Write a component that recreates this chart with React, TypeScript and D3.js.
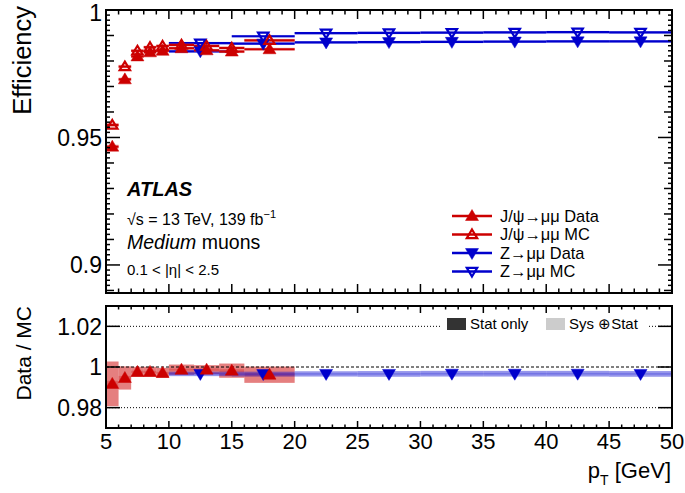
import React from 'react';
import * as d3 from 'd3';

// ---- data ----
const jpsiEdges = [5, 6, 7, 8, 9, 10, 12, 14, 16, 20];
const jpsiData = [0.9464, 0.9728, 0.9818, 0.9834, 0.984, 0.985, 0.9842, 0.9837, 0.9846];
const jpsiMC = [0.9549, 0.9778, 0.984, 0.9854, 0.9859, 0.9863, 0.9859, 0.9851, 0.9881];
const jpsiEffErr = [0.0008, 0.0007, 0.0006, 0.0006, 0.0006, 0.0006, 0.0006, 0.0006, 0.0006];
const zEdges = [10, 15, 20, 25, 30, 35, 40, 45, 50];
const zData = [0.9838, 0.9868, 0.9873, 0.9874, 0.9875, 0.9876, 0.9877, 0.9877];
const zMC = [0.987, 0.9897, 0.9909, 0.991, 0.9911, 0.9912, 0.9913, 0.9912];
const zEffErr = [0.0005, 0.0005, 0.0005, 0.0005, 0.0005, 0.0005, 0.0005, 0.0005];

const jpsiRatio = [0.9917, 0.9946, 0.9976, 0.9976, 0.9971, 0.9987, 0.9987, 0.9982, 0.9962];
const jpsiRatioSys = [0.011, 0.0057, 0.0025, 0.0025, 0.0025, 0.0025, 0.0022, 0.0035, 0.004];
const jpsiRatioStat = [0.0015, 0.001, 0.0006, 0.0005, 0.0005, 0.0005, 0.0006, 0.0007, 0.0008];
const zRatio = [0.9966, 0.9965, 0.9966, 0.9966, 0.9967, 0.9967, 0.9967, 0.9966];
const zRatioSys = [0.0011, 0.0012, 0.0013, 0.0014, 0.0014, 0.0014, 0.0014, 0.0014];
const zRatioStat = [0.0004, 0.0004, 0.0004, 0.0004, 0.0004, 0.0004, 0.0004, 0.0004];

const xTickLabels = ['5', '10', '15', '20', '25', '30', '35', '40', '45', '50'];
const yTopLabels = [0.9, 0.95, 1];
const yBotLabels = [0.98, 1, 1.02];

const RED = '#cc0000';
const BLUE = '#0000cc';
const FONT = "'Liberation Sans', Arial, Helvetica, sans-serif";

const upFilled = 'M0,-6.5L6.5,4.5L-6.5,4.5Z';
const upOpen = 'M0,-5L5.2,3.6L-5.2,3.6Z';
const downFilled = 'M0,6.5L6.5,-4.5L-6.5,-4.5Z';
const downOpen = 'M0,5L5.2,-3.6L-5.2,-3.6Z';

function Marker({ cx, cy, kind, color }: { cx: number; cy: number; kind: string; color: string }) {
  const d = kind === 'upF' ? upFilled : kind === 'upO' ? upOpen : kind === 'dnF' ? downFilled : downOpen;
  const filled = kind.endsWith('F');
  return (
    <path
      d={d}
      transform={`translate(${cx},${cy})`}
      fill={filled ? color : 'none'}
      stroke={color}
      strokeWidth={filled ? 0.5 : 2.2}
      strokeLinejoin="miter"
    />
  );
}

export default function App() {
  const W = 685, H = 493;
  const L = 106, R = 672;
  const topT = 10, topB = 293, botT = 306, botB = 428;
  const x = d3.scaleLinear().domain([5, 50]).range([L, R]);
  const yT = d3.scaleLinear().domain([0.889, 1]).range([topB, topT]);
  const yB = d3.scaleLinear().domain([0.97, 1.03]).range([botB, botT]);

  const xMinor = d3.range(5, 51, 1);
  const yTopMinor = d3.range(445, 501).map((i) => ({ v: i * 0.002, i }));

  const effSeries = (
    edges: number[],
    vals: number[],
    errs: number[],
    color: string,
    light: string
  ) =>
    vals.map((v, i) => (
      <g key={i}>
        <rect
          x={x(edges[i])}
          width={x(edges[i + 1]) - x(edges[i])}
          y={yT(v + errs[i])}
          height={yT(v - errs[i]) - yT(v + errs[i])}
          fill={light}
        />
        <line x1={x(edges[i])} x2={x(edges[i + 1])} y1={yT(v)} y2={yT(v)} stroke={color} strokeWidth={2.2} />
      </g>
    ));

  const ratioBands = (edges: number[], vals: number[], sys: number[], stat: number[], sysC: string, statC: string) =>
    vals.map((v, i) => (
      <g key={i}>
        <rect
          x={x(edges[i])}
          width={x(edges[i + 1]) - x(edges[i])}
          y={yB(v + sys[i])}
          height={yB(v - sys[i]) - yB(v + sys[i])}
          fill={sysC}
        />
        <rect
          x={x(edges[i])}
          width={x(edges[i + 1]) - x(edges[i])}
          y={yB(v + stat[i])}
          height={yB(v - stat[i]) - yB(v + stat[i])}
          fill={statC}
        />
      </g>
    ));

  const centers = (edges: number[]) => edges.slice(0, -1).map((e, i) => (e + edges[i + 1]) / 2);
  const jc = centers(jpsiEdges);
  const zc = centers(zEdges);

  const legendRows = [
    { label: 'J/ψ→μμ Data', kind: 'upF', color: RED },
    { label: 'J/ψ→μμ MC', kind: 'upO', color: RED },
    { label: 'Z→μμ Data', kind: 'dnF', color: BLUE },
    { label: 'Z→μμ MC', kind: 'dnO', color: BLUE },
  ];

  return (
    <svg width={W} height={H} style={{ position: 'absolute', left: 0, top: 0, background: '#fff' }} fontFamily={FONT}>
      <rect width={W} height={H} fill="#fff" />

      {/* ===== TOP PANEL ===== */}
      {effSeries(zEdges, zMC, zEffErr, BLUE, 'rgba(90,90,230,0.45)')}
      {effSeries(zEdges, zData, zEffErr, BLUE, 'rgba(90,90,230,0.45)')}
      {effSeries(jpsiEdges, jpsiMC, jpsiEffErr, RED, 'rgba(230,90,90,0.45)')}
      {effSeries(jpsiEdges, jpsiData, jpsiEffErr, RED, 'rgba(230,90,90,0.45)')}
      {zc.map((c, i) => (
        <Marker key={'zm' + i} cx={x(c)} cy={yT(zMC[i])} kind="dnO" color={BLUE} />
      ))}
      {zc.map((c, i) => (
        <Marker key={'zd' + i} cx={x(c)} cy={yT(zData[i])} kind="dnF" color={BLUE} />
      ))}
      {jc.map((c, i) => (
        <Marker key={'jm' + i} cx={x(c)} cy={yT(jpsiMC[i])} kind="upO" color={RED} />
      ))}
      {jc.map((c, i) => (
        <Marker key={'jd' + i} cx={x(c)} cy={yT(jpsiData[i])} kind="upF" color={RED} />
      ))}

      {/* top frame ticks */}
      {xMinor.map((v) => {
        const len = v % 5 === 0 ? 9 : 4.5;
        return (
          <g key={'xt' + v} stroke="#000" strokeWidth={1.5}>
            <line x1={x(v)} x2={x(v)} y1={topB} y2={topB - len} />
            <line x1={x(v)} x2={x(v)} y1={topT} y2={topT + len} />
          </g>
        );
      })}
      {yTopMinor.map(({ v, i }) => {
        const len = i % 25 === 0 ? 14 : i % 5 === 0 ? 8 : 4;
        return (
          <g key={'yt' + i} stroke="#000" strokeWidth={1.5}>
            <line x1={L} x2={L + len} y1={yT(v)} y2={yT(v)} />
            <line x1={R} x2={R - len} y1={yT(v)} y2={yT(v)} />
          </g>
        );
      })}
      <rect x={L} y={topT} width={R - L} height={topB - topT} fill="none" stroke="#000" strokeWidth={2} />
      {yTopLabels.map((v) => (
        <text key={'ytl' + v} x={102} y={Math.max(yT(v), 13)} dy="0.36em" textAnchor="end" fontSize={23}>
          {String(v)}
        </text>
      ))}
      <text transform="translate(31,6) rotate(-90)" textAnchor="end" fontSize={25.5}>
        Efficiency
      </text>

      {/* top texts */}
      <text x={127} y={196} fontSize={20} fontStyle="italic" fontWeight="bold">
        ATLAS
      </text>
      <text x={127} y={225} fontSize={16}>
        √s = 13 TeV, 139 fb<tspan dy={-7} fontSize={11}>−1</tspan>
      </text>
      <text x={127} y={249} fontSize={19.5}>
        <tspan fontStyle="italic">Medium</tspan> muons
      </text>
      <text x={127} y={275} fontSize={15}>
        0.1 &lt; |η| &lt; 2.5
      </text>

      {/* top legend */}
      {legendRows.map((r, i) => {
        const yy = 216 + i * 18.5;
        return (
          <g key={'lg' + i}>
            <line x1={452} x2={492} y1={yy} y2={yy} stroke={r.color} strokeWidth={2.5} />
            <Marker cx={472} cy={yy} kind={r.kind} color={r.color} />
            <text x={500} y={yy} dy="0.36em" fontSize={16.4}>
              {r.label}
            </text>
          </g>
        );
      })}

      {/* ===== BOTTOM PANEL ===== */}
      {[0.98, 1.02].map((v) => (
        <line key={'dot' + v} x1={L} x2={R} y1={yB(v)} y2={yB(v)} stroke="#000" strokeWidth={1} strokeDasharray="1 2" />
      ))}
      {ratioBands(jpsiEdges, jpsiRatio, jpsiRatioSys, jpsiRatioStat, 'rgba(204,0,0,0.5)', 'rgba(204,0,0,0.25)')}
      {ratioBands(zEdges, zRatio, zRatioSys, zRatioStat, 'rgba(20,20,210,0.45)', 'rgba(20,20,210,0.25)')}
      <line x1={L} x2={R} y1={yB(1)} y2={yB(1)} stroke="#000" strokeWidth={1} strokeDasharray="3 2" />
      {zc.map((c, i) => (
        <Marker key={'zr' + i} cx={x(c)} cy={yB(zRatio[i])} kind="dnF" color={BLUE} />
      ))}
      {jc.map((c, i) => (
        <Marker key={'jr' + i} cx={x(c)} cy={yB(jpsiRatio[i])} kind="upF" color={RED} />
      ))}

      {/* bottom legend */}
      <rect x={442} y={312} width={205} height={24} fill="#fff" />
      <rect x={447} y={318} width={19} height={12} fill="#333" />
      <text x={470} y={329} fontSize={15}>
        Stat only
      </text>
      <rect x={546} y={318} width={19} height={12} fill="#ccc" />
      <text x={569} y={329} fontSize={15}>
        Sys ⊕Stat
      </text>

      {xMinor.map((v) => {
        const len = v % 5 === 0 ? 7 : 3.5;
        return (
          <g key={'xb' + v} stroke="#000" strokeWidth={1.5}>
            <line x1={x(v)} x2={x(v)} y1={botB} y2={botB - len} />
            <line x1={x(v)} x2={x(v)} y1={botT} y2={botT + len} />
          </g>
        );
      })}
      {yBotLabels.map((v) => (
        <g key={'yb' + v} stroke="#000" strokeWidth={1.5}>
          <line x1={L} x2={L + 14} y1={yB(v)} y2={yB(v)} />
          <line x1={R} x2={R - 14} y1={yB(v)} y2={yB(v)} />
        </g>
      ))}
      <rect x={L} y={botT} width={R - L} height={botB - botT} fill="none" stroke="#000" strokeWidth={2} />
      {yBotLabels.map((v) => (
        <text key={'ybl' + v} x={102} y={yB(v)} dy="0.36em" textAnchor="end" fontSize={23}>
          {String(v)}
        </text>
      ))}
      <text transform="translate(31,306) rotate(-90)" textAnchor="end" fontSize={21}>
        Data / MC
      </text>
      {xTickLabels.map((t) => (
        <text key={'xl' + t} x={x(+t)} y={449} textAnchor="middle" fontSize={22}>
          {t}
        </text>
      ))}
      <text x={671} y={478} textAnchor="end" fontSize={22}>
        p<tspan dy={7} fontSize={14}>T</tspan>
        <tspan dy={-7}> [GeV]</tspan>
      </text>
    </svg>
  );
}
